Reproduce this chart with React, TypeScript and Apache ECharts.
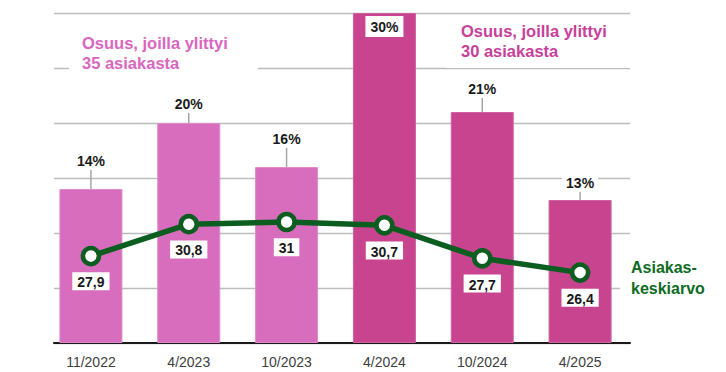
import React, { useEffect, useRef } from "react";
import * as echarts from "echarts";

const categories = ["11/2022", "4/2023", "10/2023", "4/2024", "10/2024", "4/2025"];
const shareOver = [14, 20, 16, 30, 21, 13];
const customerAvg = [27.9, 30.8, 31, 30.7, 27.7, 26.4];
const periodGroup = [35, 35, 35, 30, 30, 30];

const LIGHT = "#D86DBE";
const DARK = "#C8448F";
const GREEN = "#0B5E1F";
const labelLift = [14, 5, 14, 0, 9, 3];

export default function App() {
  const ref = useRef<HTMLDivElement>(null);
  useEffect(() => {
    if (!ref.current) return;
    const chart = echarts.init(ref.current, undefined, { renderer: "svg" });
    const font = "Liberation Sans, Arial, sans-serif";
    const barData = shareOver.map((v, i) => {
      const color = periodGroup[i] === 35 ? LIGHT : DARK;
      const item: any = { value: v, itemStyle: { color, borderColor: color === LIGHT ? "#E08ACB" : "#D060A0", borderWidth: 1 } };
      if (v === Math.max(...shareOver)) {
        item.label = { position: "insideTop", distance: 3, padding: [4, 5, 3, 5] };
        item.labelLine = { show: false };
      }
      return item;
    });
    chart.setOption({
      animation: false,
      grid: [
        { left: 42, right: 97, top: 13, bottom: 29 },
        { left: 54, right: 96, top: 13, bottom: 29 },
      ],
      xAxis: [
        {
          type: "category",
          gridIndex: 0,
          data: categories,
          axisLine: { show: false },
          axisTick: { show: false },
          axisLabel: { fontSize: 14, color: "#404040", fontFamily: font, margin: 12 },
        },
        {
          type: "category",
          gridIndex: 1,
          data: categories,
          axisLine: { show: true, lineStyle: { color: "#1a1a1a", width: 2 } },
          axisTick: { show: false },
          axisLabel: { show: false },
        },
      ],
      yAxis: [
        { type: "value", gridIndex: 0, min: 0, max: 30, interval: 5, show: false, splitLine: { show: false } },
        { type: "value", gridIndex: 0, min: 20, max: 50, interval: 5, show: false, splitLine: { show: false } },
        {
          type: "value",
          gridIndex: 1,
          min: 0,
          max: 30,
          interval: 5,
          axisLine: { show: false },
          axisTick: { show: false },
          axisLabel: { show: false },
          splitLine: { show: true, lineStyle: { color: "#BDBDBD", width: 1.3 } },
        },
      ],
      series: [
        {
          type: "bar",
          xAxisIndex: 0,
          yAxisIndex: 0,
          barWidth: 63,
          data: barData,
          label: {
            show: true,
            position: "top",
            distance: 5,
            formatter: (p: any) => p.value + "%",
            fontFamily: font,
            fontSize: 14,
            fontWeight: "bold",
            color: "#1a1a1a",
            backgroundColor: "#ffffff",
            padding: [2, 4],
          },
          labelLayout: (p: any) => ({ dy: -labelLift[p.dataIndex] }),
          labelLine: { show: true, lineStyle: { color: "#A6A6A6", width: 1.5 } },
          z: 2,
        },
        {
          type: "line",
          xAxisIndex: 0,
          yAxisIndex: 1,
          data: customerAvg,
          lineStyle: { color: GREEN, width: 5.5 },
          symbol: "circle",
          symbolSize: 16,
          itemStyle: { color: "#ffffff", borderColor: GREEN, borderWidth: 4.5 },
          label: {
            show: true,
            position: "bottom",
            distance: 6,
            formatter: (p: any) => String(p.value).replace(".", ","),
            fontFamily: font,
            fontSize: 14,
            fontWeight: "bold",
            color: "#1a1a1a",
            backgroundColor: "#ffffff",
            padding: [3, 5, 1, 5],
          },
          z: 5,
        },
      ],
      graphic: [
        { type: "rect", z: 1, shape: { x: 69, y: 24, width: 189, height: 56 }, style: { fill: "#ffffff" } },
        {
          type: "text",
          z: 2,
          x: 82,
          y: 33,
          style: {
            text: "Osuus, joilla ylittyi\n35 asiakasta",
            fill: "#D966C0",
            font: "bold 16.5px Liberation Sans, Arial, sans-serif",
            lineHeight: 20,
          },
        },
        { type: "rect", z: 1, shape: { x: 446, y: 18, width: 184, height: 50 }, style: { fill: "#ffffff" } },
        {
          type: "text",
          z: 2,
          x: 461,
          y: 21,
          style: {
            text: "Osuus, joilla ylittyi\n30 asiakasta",
            fill: "#C8409A",
            font: "bold 16.5px Liberation Sans, Arial, sans-serif",
            lineHeight: 20,
          },
        },
        { type: "rect", z: 1, shape: { x: 620, y: 255, width: 106, height: 45 }, style: { fill: "#ffffff" } },
        {
          type: "text",
          z: 2,
          x: 631,
          y: 257,
          style: {
            text: "Asiakas-\nkeskiarvo",
            fill: "#0E6B23",
            font: "bold 16px Liberation Sans, Arial, sans-serif",
            lineHeight: 21,
          },
        },
      ],
    });
    return () => chart.dispose();
  }, []);
  return (
    <div
      ref={ref}
      style={{ position: "fixed", left: 0, top: 0, width: 726, height: 372, background: "#ffffff" }}
    />
  );
}
